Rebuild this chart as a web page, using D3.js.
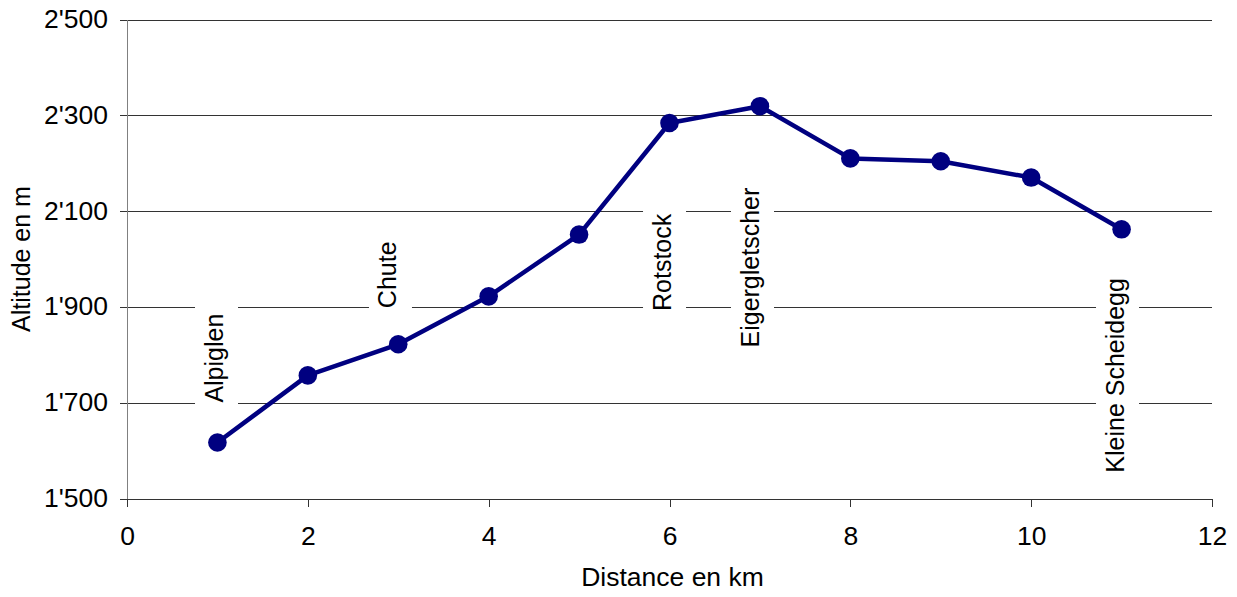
<!DOCTYPE html>
<html>
<head>
<meta charset="utf-8">
<script src="https://cdn.jsdelivr.net/npm/d3@7"></script>
<style>
  html, body { margin: 0; padding: 0; background: #fff; }
  svg { display: block; }
  text { font-family: "Liberation Sans", Arial, sans-serif; fill: #000; }
</style>
</head>
<body>
<svg id="chart" width="1237" height="597"></svg>
<script>
// ---- data ----
const distanceKm = [1, 2, 3, 4, 5, 6, 7, 8, 9, 10, 11];
const altitudeM  = [1617, 1757, 1822, 1922, 2051, 2284, 2319, 2210, 2204, 2170, 2062];

const stopNames  = ["Alpiglen", "Chute", "Rotstock", "Eigergletscher", "Kleine Scheidegg"];
const stopKm     = [0.99, 2.914, 5.945, 6.918, 10.955];
const stopLabelM = [1793, 1967, 1993, 1982, 1757];

const xTicks = [0, 2, 4, 6, 8, 10, 12];
const yTicks = [1500, 1700, 1900, 2100, 2300, 2500];

const xTitle = "Distance en km";
const yTitle = "Altitude en m";

// ---- layout ----
const svg = d3.select("#chart");
const pL = 127, pR = 1212, pT = 19.5, pB = 498.5;
const W = pR - pL, H = pB - pT;
const fs = 25;
const sx = 1.06; // horizontal stretch of the glyphs

const x = d3.scaleLinear().domain([0, 12]).range([pL, pR]);
const y = d3.scaleLinear().domain([1500, 2500]).range([pB, pT]);

const fmt = v => d3.format(",")(v).replace(/,/g, "'");

// gridlines
const grid = svg.append("g").attr("transform", `translate(${pL},0)`)
  .call(d3.axisLeft(y).tickValues(yTicks).tickSize(-W).tickFormat(""));
grid.select(".domain").remove();
grid.selectAll("line").attr("stroke", "#333").attr("stroke-width", 1).attr("shape-rendering", "crispEdges");

// x axis
const xa = svg.append("g").attr("transform", `translate(0,${pB})`)
  .call(d3.axisBottom(x).tickValues(xTicks).tickSize(8).tickPadding(21).tickSizeOuter(0));
xa.select(".domain").attr("stroke", "#333").attr("d", `M${pL - 7},0.5H${pR}`).attr("shape-rendering", "crispEdges");
xa.selectAll("line").attr("stroke", "#333").attr("shape-rendering", "crispEdges");
xa.selectAll("text").attr("font-size", fs).attr("font-family", "Liberation Sans, Arial, sans-serif").attr("fill", "#000")
  .attr("transform", function() { return `scale(${sx},1)`; });

// y axis
const ya = svg.append("g").attr("transform", `translate(${pL},0)`)
  .call(d3.axisLeft(y).tickValues(yTicks).tickSize(7).tickPadding(12).tickSizeOuter(0).tickFormat(fmt));
ya.select(".domain").attr("stroke", "#808080").attr("shape-rendering", "crispEdges");
ya.selectAll("line").attr("stroke", "#333").attr("shape-rendering", "crispEdges");
ya.selectAll("text").attr("font-size", fs).attr("font-family", "Liberation Sans, Arial, sans-serif").attr("fill", "#000")
  .attr("transform", `scale(${sx},1)`)
  .attr("x", -19 / sx);

// axis titles
svg.append("text")
  .attr("transform", `translate(${(pL + pR) / 2 + 3},586) scale(${sx},1)`)
  .attr("text-anchor", "middle").attr("font-size", fs).text(xTitle);
svg.append("text")
  .attr("transform", `translate(30,${(pT + pB) / 2}) scale(${sx},1) rotate(-90)`)
  .attr("text-anchor", "middle").attr("font-size", fs).text(yTitle);

// stop labels with white boxes
const stops = stopNames.map((n, i) => ({ name: n, km: stopKm[i], m: stopLabelM[i] }));
const lg = svg.append("g");
stops.forEach(s => {
  const cx = x(s.km), cy = y(s.m);
  const g = lg.append("g");
  const t = g.append("text")
    .attr("transform", `translate(${cx + 6},${cy}) scale(${sx},1) rotate(-90)`)
    .attr("text-anchor", "middle").attr("font-size", fs).text(s.name);
  const len = t.node().getComputedTextLength();
  g.insert("rect", "text")
    .attr("x", cx - 21.5).attr("width", 43)
    .attr("y", cy - len / 2 - 7).attr("height", len + 14)
    .attr("fill", "#fff");
});

// line and markers
const pts = distanceKm.map((d, i) => [d, altitudeM[i]]);
svg.append("path").datum(pts)
  .attr("fill", "none").attr("stroke", "#000080").attr("stroke-width", 4.5)
  .attr("stroke-linejoin", "round")
  .attr("d", d3.line().x(d => x(d[0])).y(d => y(d[1])));
svg.append("g").selectAll("circle").data(pts).join("circle")
  .attr("cx", d => x(d[0])).attr("cy", d => y(d[1])).attr("r", 9.3)
  .attr("fill", "#000080");
</script>
</body>
</html>
